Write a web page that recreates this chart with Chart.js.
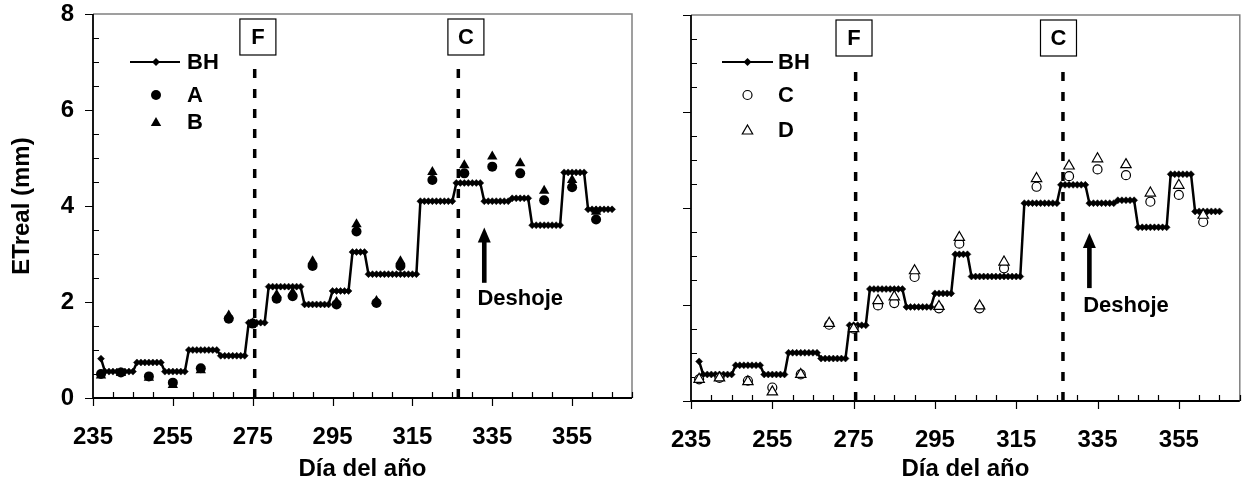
<!DOCTYPE html>
<html>
<head>
<meta charset="utf-8">
<script src="https://cdn.jsdelivr.net/npm/chart.js@4.4.1/dist/chart.umd.min.js"></script>
<style>
  body { margin: 0; background: #fff; }
  #left { position: absolute; left: 0; top: 0; }
  #right { position: absolute; left: 640px; top: 0; }
</style>
</head>
<body>
<canvas id="left" width="640" height="484"></canvas>
<canvas id="right" width="607" height="484"></canvas>
<script>
// daily water balance (BH), first day 237
var bhStart = 237;
var bh = [0.82,
  0.55, 0.55, 0.55, 0.55, 0.55, 0.55, 0.55, 0.55,
  0.74, 0.74, 0.74, 0.74, 0.74, 0.74, 0.74,
  0.55, 0.55, 0.55, 0.55, 0.55, 0.55,
  1.00, 1.00, 1.00, 1.00, 1.00, 1.00, 1.00, 1.00,
  0.88, 0.88, 0.88, 0.88, 0.88, 0.88, 0.88,
  1.57, 1.57, 1.57, 1.57, 1.57,
  2.32, 2.32, 2.32, 2.32, 2.32, 2.32, 2.32, 2.32, 2.32,
  1.95, 1.95, 1.95, 1.95, 1.95, 1.95, 1.95,
  2.23, 2.23, 2.23, 2.23, 2.23,
  3.04, 3.04, 3.04, 3.04,
  2.58, 2.58, 2.58, 2.58, 2.58, 2.58, 2.58, 2.58, 2.58, 2.58, 2.58, 2.58, 2.58,
  4.10, 4.10, 4.10, 4.10, 4.10, 4.10, 4.10, 4.10, 4.10,
  4.48, 4.48, 4.48, 4.48, 4.48, 4.48, 4.48,
  4.10, 4.10, 4.10, 4.10, 4.10, 4.10, 4.10,
  4.16, 4.16, 4.16, 4.16, 4.16,
  3.60, 3.60, 3.60, 3.60, 3.60, 3.60, 3.60, 3.60,
  4.70, 4.70, 4.70, 4.70, 4.70, 4.70,
  3.93, 3.93, 3.93, 3.93, 3.93, 3.93, 3.93];

// measured days and values
var obsDays = [237, 242, 249, 255, 262, 269, 275, 281, 285, 290, 296, 301, 306, 312, 320, 328, 335, 342, 348, 355, 361];
var serieA = [0.50, 0.53, 0.45, 0.32, 0.62, 1.65, 1.55, 2.07, 2.12, 2.75, 1.95, 3.47, 1.98, 2.75, 4.54, 4.68, 4.82, 4.68, 4.12, 4.39, 3.72];
var serieB = [0.47, 0.52, 0.42, 0.27, 0.58, 1.72, 1.55, 2.15, 2.20, 2.85, 2.00, 3.62, 2.02, 2.85, 4.71, 4.85, 5.03, 4.89, 4.32, 4.54, 3.88];
var serieC = [0.45, 0.48, 0.42, 0.28, 0.55, 1.58, 1.50, 1.98, 2.03, 2.57, 1.92, 3.26, 1.92, 2.75, 4.44, 4.66, 4.80, 4.68, 4.13, 4.27, 3.71];
var serieD = [0.45, 0.48, 0.40, 0.19, 0.55, 1.61, 1.50, 2.08, 2.16, 2.70, 1.96, 3.39, 1.97, 2.88, 4.61, 4.87, 5.02, 4.90, 4.31, 4.47, 3.85];

var xMin = 235, xMax = 370;
var yMin = 0, yMax = 8;
var xLabels = [235, 255, 275, 295, 315, 335, 355];
var diaF = 275.5, diaC = 326.5;

var FONT = '"Liberation Sans", Arial, sans-serif';
Chart.defaults.font.family = FONT;
Chart.defaults.color = '#000';

function pts(xs, ys) {
  var out = [];
  for (var i = 0; i < ys.length; i++) out.push({ x: xs[i], y: ys[i] });
  return out;
}
var bhDays = bh.map(function (v, i) { return bhStart + i; });

function tri(ctx, x, y, r) {
  ctx.beginPath();
  ctx.moveTo(x, y - r);
  ctx.lineTo(x + r * 0.866, y + r * 0.5);
  ctx.lineTo(x - r * 0.866, y + r * 0.5);
  ctx.closePath();
}

var decoPlugin = {
  id: 'deco',
  beforeDatasetsDraw: function (chart) {
    var a = chart.chartArea, ctx = chart.ctx;
    var xs = chart.scales.x, ys = chart.scales.y;
    ctx.save();
    ctx.strokeStyle = '#808080';
    ctx.lineWidth = 1.5;
    ctx.beginPath();
    ctx.moveTo(a.left, a.top); ctx.lineTo(a.right, a.top); ctx.lineTo(a.right, a.bottom);
    ctx.stroke();
    ctx.strokeStyle = '#000';
    ctx.lineWidth = 1.2;
    ctx.beginPath();
    for (var d = xMin; d <= xMax; d += 5) {
      var px = Math.round(xs.getPixelForValue(d)) + 0.5;
      if ((d - xMin) % 20 === 0) { ctx.moveTo(px, a.bottom); ctx.lineTo(px, a.bottom + 8); }
      else { ctx.moveTo(px, a.bottom); ctx.lineTo(px, a.bottom - 6); }
    }
    for (var v = yMin; v <= yMax; v += 0.5) {
      var py = Math.round(ys.getPixelForValue(v)) + 0.5;
      if (v % 2 === 0) { ctx.moveTo(a.left - 8, py); ctx.lineTo(a.left, py); }
      else { ctx.moveTo(a.left, py); ctx.lineTo(a.left + 6, py); }
    }
    ctx.stroke();
    ctx.lineWidth = 1.8;
    ctx.beginPath();
    ctx.moveTo(a.left, a.top); ctx.lineTo(a.left, a.bottom); ctx.lineTo(a.right, a.bottom);
    ctx.stroke();
    ctx.restore();
  },
  afterDraw: function (chart, args, o) {
    var a = chart.chartArea, ctx = chart.ctx;
    var xs = chart.scales.x, ys = chart.scales.y;
    ctx.save();
    // boxes F and C
    ctx.font = 'bold 22px ' + FONT;
    ctx.textAlign = 'center';
    ctx.textBaseline = 'middle';
    o.boxes.forEach(function (b) {
      var cx = xs.getPixelForValue(b.x);
      ctx.fillStyle = '#fff';
      ctx.fillRect(cx - 18, a.top + 5, 36, 36);
      ctx.strokeStyle = '#000';
      ctx.lineWidth = 1.2;
      ctx.strokeRect(cx - 18, a.top + 5, 36, 36);
      ctx.fillStyle = '#000';
      ctx.fillText(b.label, cx, a.top + 24);
    });
    // arrow + Deshoje
    var ax = xs.getPixelForValue(o.arrowX);
    var at = ys.getPixelForValue(o.arrowTop), ab = ys.getPixelForValue(o.arrowBottom);
    ctx.fillStyle = '#000';
    ctx.fillRect(ax - 2.3, at + 12, 4.6, ab - at - 12);
    ctx.beginPath();
    ctx.moveTo(ax, at); ctx.lineTo(ax - 6.5, at + 15); ctx.lineTo(ax + 6.5, at + 15);
    ctx.closePath(); ctx.fill();
    ctx.fillText('Deshoje', xs.getPixelForValue(o.textX), ys.getPixelForValue(o.textY));
    // legend
    var L = o.legend;
    var x0 = a.left + L.x0, x1 = a.left + L.x1, mx = a.left + L.mx, tx = a.left + L.tx;
    ctx.textAlign = 'left';
    ctx.strokeStyle = '#000';
    ctx.lineWidth = 2;
    var y = a.top + L.rows[0];
    ctx.beginPath(); ctx.moveTo(x0, y); ctx.lineTo(x1, y); ctx.stroke();
    ctx.beginPath();
    ctx.moveTo(mx, y - 4); ctx.lineTo(mx + 4, y); ctx.lineTo(mx, y + 4); ctx.lineTo(mx - 4, y);
    ctx.closePath(); ctx.fill();
    ctx.fillText('BH', tx, y + 1);
    y = a.top + L.rows[1];
    ctx.beginPath(); ctx.arc(mx, y, L.open ? 4.5 : 5, 0, Math.PI * 2);
    if (L.open) { ctx.lineWidth = 1.2; ctx.fillStyle = '#fff'; ctx.fill(); ctx.stroke(); } else { ctx.fill(); }
    ctx.fillStyle = '#000';
    ctx.fillText(L.names[0], tx, y + 1);
    y = a.top + L.rows[2];
    tri(ctx, mx, y + 1, 6);
    if (L.open) { ctx.lineWidth = 1.2; ctx.fillStyle = '#fff'; ctx.fill(); ctx.stroke(); } else { ctx.fill(); }
    ctx.fillStyle = '#000';
    ctx.fillText(L.names[1], tx, y + 1);
    ctx.restore();
  }
};

function vline(day) {
  return {
    data: [{ x: day, y: 0 }, { x: day, y: 7 }],
    showLine: true, borderColor: '#000', borderWidth: 3.5, borderDash: [9, 11],
    pointRadius: 0, order: 5
  };
}

function makeChart(id, sets, deco, side) {
  var left = side === 'left';
  return new Chart(document.getElementById(id).getContext('2d'), {
    type: 'scatter',
    data: {
      datasets: sets.concat([
        {
          label: 'BH', data: pts(bhDays, bh), showLine: true,
          borderColor: '#000', borderWidth: 2.5, tension: 0,
          pointStyle: 'rectRot', pointRadius: 3.5, pointBackgroundColor: '#000', pointBorderColor: '#000',
          pointBorderWidth: 0.5, order: 4
        },
        vline(diaF), vline(diaC)
      ])
    },
    options: {
      responsive: false,
      animation: false,
      events: [],
      layout: { padding: left ? { top: 14, right: 8, left: 0, bottom: 0 } : { top: 15, right: 1, left: 0, bottom: 0 } },
      plugins: { legend: { display: false }, tooltip: { enabled: false }, deco: deco },
      scales: {
        x: {
          type: 'linear', min: xMin, max: xMax,
          grid: { display: false, drawTicks: true, tickLength: 8 },
          border: { display: false },
          ticks: {
            stepSize: 5, autoSkip: false, maxRotation: 0, padding: 17, color: '#000',
            font: { size: 24, weight: 'bold' },
            callback: function (v) { return xLabels.indexOf(v) >= 0 ? String(v) : ''; }
          },
          title: { display: true, text: 'Día del año', color: '#000', font: { size: 24, weight: 'bold' }, padding: { top: 0, bottom: 0 } },
          afterFit: function (s) { s.height = left ? 86 : 83; s.paddingLeft = 0; s.paddingRight = 0; }
        },
        y: {
          min: yMin, max: yMax,
          grid: { display: false, drawTicks: true, tickLength: 8 },
          border: { display: false },
          ticks: {
            display: left, stepSize: 2, padding: 11, color: '#000',
            font: { size: 24, weight: 'bold', lineHeight: 1 }
          },
          title: { display: left, text: 'ETreal (mm)', color: '#000', font: { size: 24, weight: 'bold' }, padding: { top: 8, bottom: 0 } },
          afterFit: function (s) { s.width = left ? 93 : 51; s.paddingTop = 0; s.paddingBottom = 0; }
        }
      }
    },
    plugins: [decoPlugin]
  });
}

makeChart('left', [
  { label: 'B', data: pts(obsDays, serieB), pointStyle: 'triangle', pointRadius: 6, backgroundColor: '#000', borderColor: '#000', borderWidth: 0, order: 0 },
  { label: 'A', data: pts(obsDays, serieA), pointStyle: 'circle', pointRadius: 5, backgroundColor: '#000', borderColor: '#000', borderWidth: 0, order: 1 }
], {
  boxes: [{ label: 'F', x: 276.3 }, { label: 'C', x: 328.4 }],
  arrowX: 333, arrowTop: 3.55, arrowBottom: 2.4, textX: 342, textY: 2.06,
  legend: { x0: 37, x1: 87, mx: 63, tx: 94, rows: [48, 81, 108], names: ['A', 'B'], open: false }
}, 'left');

makeChart('right', [
  { label: 'D', data: pts(obsDays, serieD), pointStyle: 'triangle', pointRadius: 6, backgroundColor: '#fff', borderColor: '#000', borderWidth: 1.2, order: 0 },
  { label: 'C', data: pts(obsDays, serieC), pointStyle: 'circle', pointRadius: 4.5, backgroundColor: '#fff', borderColor: '#000', borderWidth: 1.2, order: 1 }
], {
  boxes: [{ label: 'F', x: 275.1 }, { label: 'C', x: 325.4 }],
  arrowX: 333, arrowTop: 3.48, arrowBottom: 2.34, textX: 342, textY: 1.97,
  legend: { x0: 31, x1: 82, mx: 56.5, tx: 87, rows: [47, 80, 115], names: ['C', 'D'], open: true }
}, 'right');
</script>
</body>
</html>
